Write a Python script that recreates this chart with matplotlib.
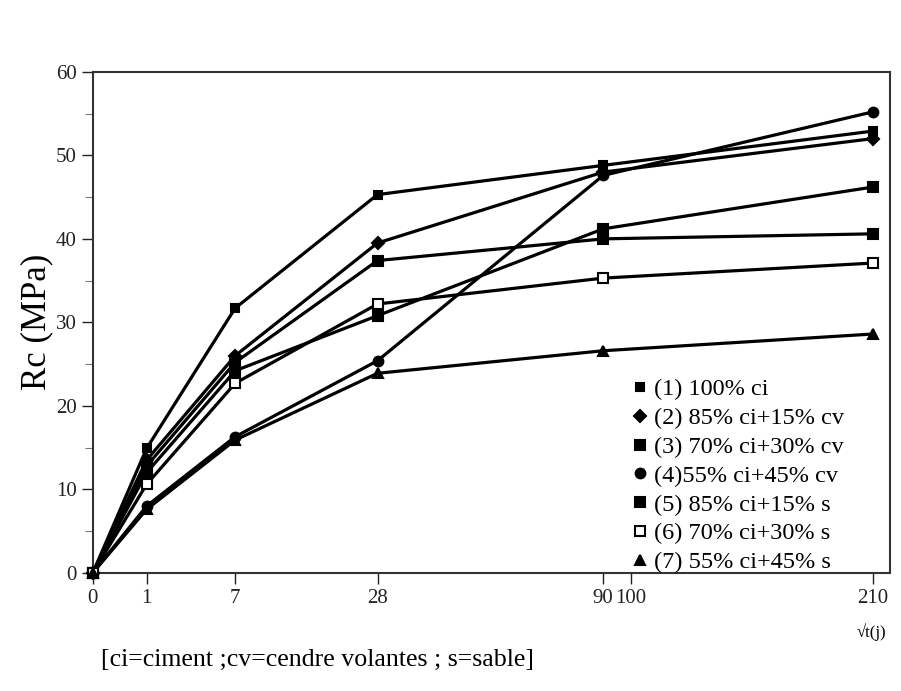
import numpy as np
import matplotlib
matplotlib.use("Agg")
import matplotlib.pyplot as plt

# Data (age in days, compressive strength Rc in MPa)
ages = [0, 1, 7, 28, 90, 210]
tick_ages = [0, 1, 7, 28, 90, 100, 210]

labels = ["(1) 100% ci", "(2) 85% ci+15% cv", "(3) 70% ci+30% cv",
          "(4)55% ci+45% cv", "(5) 85% ci+15% s", "(6) 70% ci+30% s",
          "(7) 55% ci+45% s"]
s1 = [0, 14.9, 31.7, 45.3, 48.8, 52.9]
s2 = [0, 13.5, 26.0, 39.5, 48.0, 52.0]
s3 = [0, 12.0, 24.2, 30.8, 41.2, 46.2]
s4 = [0, 8.0, 16.3, 25.4, 47.6, 55.2]
s5 = [0, 12.8, 25.2, 37.4, 40.0, 40.6]
s6 = [0, 10.6, 22.7, 32.2, 35.3, 37.1]
s7 = [0, 7.6, 15.9, 23.9, 26.6, 28.6]
series = [s1, s2, s3, s4, s5, s6, s7]
markers = ["s", "D", "s", "o", "s", "s", "^"]
fills = ["k", "k", "k", "k", "k", "white", "k"]
msizes = [6, 6, 7, 7, 7, 7, 7]

plt.rcParams['font.family'] = ['Liberation Serif', 'DejaVu Serif']

fig = plt.figure(figsize=(9.01, 6.91), dpi=100)
ax = fig.add_axes([0.103, 0.171, 0.885, 0.725])

x = np.sqrt(ages)
handles = []
for s, m, f, ms, lab in zip(series, markers, fills, msizes, labels):
    ax.plot(x, s, color="black", lw=2.3, zorder=2, clip_on=False)
    h = ax.plot(x, s, linestyle="none", marker=m, markersize=ms,
                markerfacecolor=f, markeredgecolor="black", markeredgewidth=1.5,
                zorder=3, clip_on=False, label=lab)[0]
    handles.append(h)

ax.set_xlim(0, 14.82)
ax.set_ylim(0, 60)
ax.set_xticks(np.sqrt(tick_ages))
ax.set_xticklabels([str(t) for t in tick_ages], fontsize=15)
ax.set_yticks(np.arange(0, 61, 10))
ax.set_yticks(np.arange(5, 60, 10), minor=True)
ax.tick_params(axis='y', which='major', direction='out', length=8, width=1, labelsize=15, colors='#222222')
ax.tick_params(axis='y', which='minor', direction='out', length=6, width=0.8, colors='#777777')
ax.tick_params(axis='x', which='major', direction='out', length=8, width=1, labelsize=15, colors='#222222')
for sp in ax.spines.values():
    sp.set_linewidth(1.5)
    sp.set_color('#333333')

ax.set_ylabel("Rc (MPa)", fontsize=25, labelpad=2)

leg = ax.legend(handles=handles, loc='lower right', bbox_to_anchor=(0.96, -0.03),
                frameon=False, fontsize=17.5, handlelength=0.6, handletextpad=0.25,
                labelspacing=0.28, borderaxespad=0.2)

fig.text(0.967, 0.085, "√t(j)", fontsize=12, ha='center', va='center')
fig.text(0.112, 0.045, "[ci=ciment ;cv=cendre volantes ; s=sable]", fontsize=18.6,
         ha='left', va='center')

fig.savefig("out.png", dpi=100)
